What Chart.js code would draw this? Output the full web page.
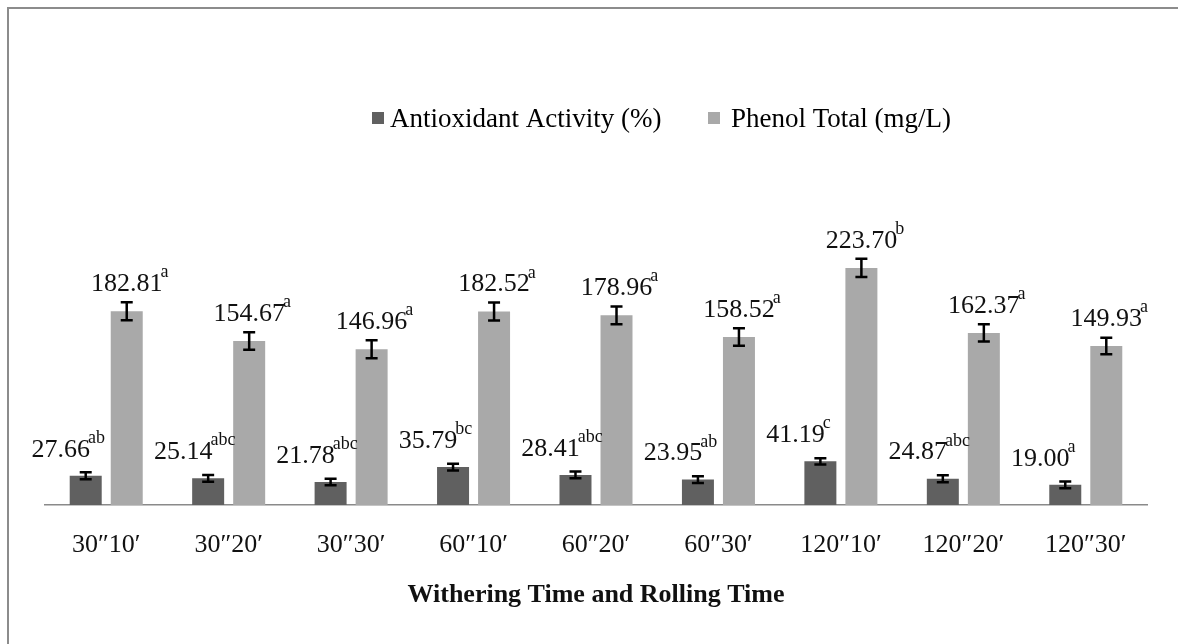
<!DOCTYPE html>
<html>
<head>
<meta charset="utf-8">
<script src="https://cdn.jsdelivr.net/npm/chart.js@4.4.1/dist/chart.umd.min.js"></script>
<style>
  html, body { margin: 0; padding: 0; background: #ffffff; }
  canvas { display: block; }
</style>
</head>
<body>
<canvas id="c" width="1178" height="644"></canvas>
<script>
// ---- data ----
const categories = ['30\u203310\u2032', '30\u203320\u2032', '30\u203330\u2032', '60\u203310\u2032', '60\u203320\u2032', '60\u203330\u2032', '120\u203310\u2032', '120\u203320\u2032', '120\u203330\u2032'];
const antioxidant = [27.66, 25.14, 21.78, 35.79, 28.41, 23.95, 41.19, 24.87, 19.00];
const antioxidantErr = [3.3, 3.2, 3.1, 3.2, 3.2, 3.2, 3.0, 3.3, 3.2];
const antioxidantLetters = ['ab', 'abc', 'abc', 'bc', 'abc', 'ab', 'c', 'abc', 'a'];
const phenol = [182.81, 154.67, 146.96, 182.52, 178.96, 158.52, 223.70, 162.37, 149.93];
const phenolErr = [8.5, 8.3, 8.4, 8.4, 8.4, 8.3, 8.5, 8.2, 7.8];
const phenolLetters = ['a', 'a', 'a', 'a', 'a', 'a', 'b', 'a', 'a'];
const seriesNames = ['Antioxidant Activity (%)', 'Phenol Total (mg/L)'];
const axisTitle = 'Withering Time and Rolling Time';

const DARK = '#606060';
const LIGHT = '#a9a9a9';
const SERIF = '"Liberation Serif", "Times New Roman", serif';

const framePlugin = {
  id: 'frame',
  beforeDraw(chart) {
    const ctx = chart.ctx;
    ctx.save();
    ctx.fillStyle = '#ffffff';
    ctx.fillRect(0, 0, chart.width, chart.height);
    ctx.fillStyle = '#8c8c8c';
    ctx.fillRect(7, 7, 2, chart.height - 7);
    ctx.fillRect(7, 7, chart.width - 7, 2);
    ctx.restore();
  }
};

const legendPlugin = {
  id: 'customLegend',
  afterDraw(chart) {
    const ctx = chart.ctx;
    ctx.save();
    ctx.font = '27px ' + SERIF;
    ctx.textBaseline = 'alphabetic';
    ctx.textAlign = 'left';
    const items = [
      { x: 372, gap: 18, color: DARK, text: seriesNames[0] },
      { x: 708, gap: 23, color: LIGHT, text: seriesNames[1] }
    ];
    items.forEach(it => {
      ctx.fillStyle = it.color;
      ctx.fillRect(it.x, 112, 12, 12);
      ctx.fillStyle = '#000000';
      ctx.fillText(it.text, it.x + it.gap, 127);
    });
    ctx.restore();
  }
};

const errLabelPlugin = {
  id: 'errLabels',
  afterDatasetsDraw(chart) {
    const ctx = chart.ctx;
    const ys = chart.scales.y;
    const cfg = [
      { values: antioxidant, err: antioxidantErr, letters: antioxidantLetters, dx: -25, dy: -26 },
      { values: phenol, err: phenolErr, letters: phenolLetters, dx: 0, dy: -27 }
    ];
    ctx.save();
    cfg.forEach((c, di) => {
      const meta = chart.getDatasetMeta(di);
      meta.data.forEach((bar, i) => {
        const v = c.values[i], e = c.err[i];
        const yt = ys.getPixelForValue(v + e);
        const yb = ys.getPixelForValue(v - e);
        ctx.strokeStyle = '#000000';
        ctx.lineWidth = 2.5;
        ctx.beginPath();
        ctx.moveTo(bar.x, yt); ctx.lineTo(bar.x, yb);
        ctx.moveTo(bar.x - 6, yt); ctx.lineTo(bar.x + 6, yt);
        ctx.moveTo(bar.x - 6, yb); ctx.lineTo(bar.x + 6, yb);
        ctx.stroke();

        const cx = bar.x + c.dx;
        const cy = bar.y + c.dy;
        const txt = v.toFixed(2);
        ctx.font = '26px ' + SERIF;
        ctx.fillStyle = '#111111';
        ctx.textAlign = 'center';
        ctx.textBaseline = 'middle';
        ctx.fillText(txt, cx, cy);
        const w = ctx.measureText(txt).width;
        ctx.font = '18px ' + SERIF;
        ctx.textAlign = 'left';
        ctx.textBaseline = 'alphabetic';
        ctx.fillText(c.letters[i], cx + w / 2 - 2, cy - 7);
      });
    });
    ctx.restore();
  }
};

new Chart(document.getElementById('c'), {
  type: 'bar',
  data: {
    labels: categories,
    datasets: [
      { label: seriesNames[0], data: antioxidant, backgroundColor: DARK, categoryPercentage: 0.67, barPercentage: 0.78 },
      { label: seriesNames[1], data: phenol, backgroundColor: LIGHT, categoryPercentage: 0.67, barPercentage: 0.78 }
    ]
  },
  options: {
    responsive: false,
    devicePixelRatio: 1,
    animation: false,
    layout: { padding: { left: 45, right: 31, top: 240, bottom: 33 } },
    plugins: {
      legend: { display: false },
      tooltip: { enabled: false }
    },
    scales: {
      x: {
        grid: { display: true, drawOnChartArea: false, drawTicks: false },
        border: { display: true, color: '#8a8a8a', width: 1.5 },
        ticks: { color: '#111111', padding: 25, font: { family: SERIF, size: 26 } },
        title: { display: true, text: axisTitle, color: '#111111', padding: { top: -6.4, bottom: 0 }, font: { family: SERIF, size: 26, weight: 'bold' } }
      },
      y: { display: false, min: 0, max: 250 }
    }
  },
  plugins: [framePlugin, errLabelPlugin, legendPlugin]
});
</script>
</body>
</html>
